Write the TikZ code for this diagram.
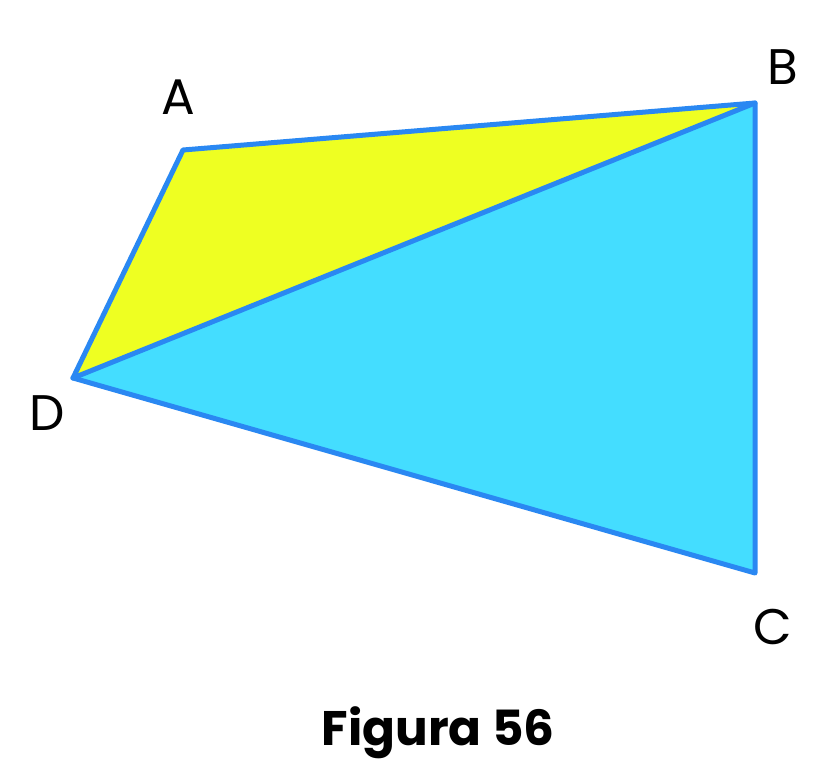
\documentclass[tikz,border=0pt]{standalone}
\usepackage{fontspec}
\setmainfont{Poppins}
\definecolor{fillTop}{HTML}{EEFF22}
\definecolor{fillLow}{HTML}{44DDFF}
\definecolor{edgeBlue}{HTML}{2A88F2}
\begin{document}
\begin{tikzpicture}[
  x=1pt, y=-1pt,
  edge/.style={draw=edgeBlue, line width=5pt, line join=round, line cap=round},
  vlabel/.style={font=\fontsize{50}{50}\selectfont, inner sep=0pt},
]
  \useasboundingbox (0,0) rectangle (835,776);
  \coordinate (A) at (183,150);
  \coordinate (B) at (755,103);
  \coordinate (C) at (755,573);
  \coordinate (D) at (73,378);

  \fill[fillTop] (A) -- (B) -- (D) -- cycle;
  \fill[fillLow] (B) -- (C) -- (D) -- cycle;
  \draw[edge] (A) -- (B) -- (C) -- (D) -- cycle;
  \draw[edge] (D) -- (B);

  \node[vlabel] (labA) at (178,97) {A};
  \node[vlabel] (labB) at (783,67) {B};
  \node[vlabel] (labC) at (773,627) {C};
  \node[vlabel] (labD) at (47,413) {D};

  % caption
  \node[font=\bfseries\fontsize{48.5}{48.5}\selectfont, inner sep=0pt] (cap) at (438,733) {Figura 56};
\end{tikzpicture}
\end{document}
